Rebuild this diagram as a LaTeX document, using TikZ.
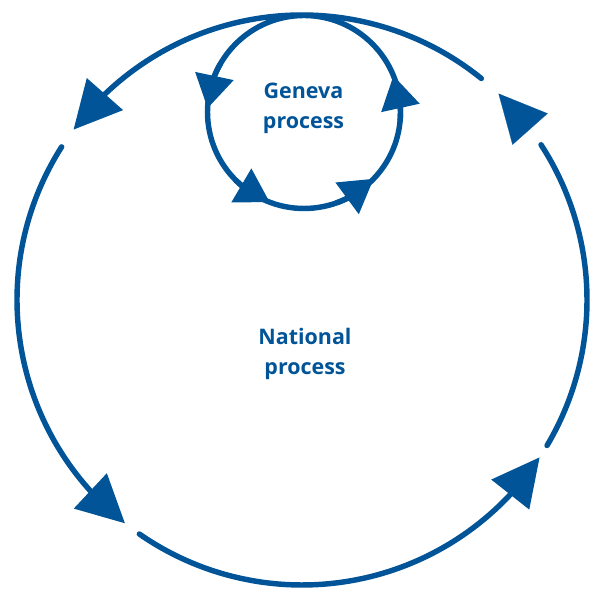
\documentclass[tikz,border=0pt]{standalone}
\usepackage{fontspec}
\setsansfont{Open Sans}
\usetikzlibrary{arrows.meta,bending}
\definecolor{unblue}{RGB}{0,84,151}
\tikzset{
	ring/.style={draw=unblue, line width=3.1pt, line cap=round},
	bigtip/.style={-{Triangle[length=0.95cm,width=0.94cm]}},
	smalltip/.style={-{Triangle[length=0.66cm,width=0.76cm]}},
	proctext/.style={align=center, text=unblue, inner sep=0pt, font=\sffamily\bfseries\fontsize{12.2}{16.8}\selectfont}
}
\begin{document}
\begin{tikzpicture}[x=0.02cm,y=0.02cm]
	\useasboundingbox (0,0) rectangle (590,590);
	\coordinate (big) at (302,290);
	\coordinate (small) at (304,478);
	\draw[ring, bigtip] (big) ++(51:285) arc[start angle=51, end angle=143.3, radius=285];
	\draw[ring, bigtip] (big) ++(147.5:285) arc[start angle=147.5, end angle=231.6, radius=285];
	\draw[ring, bigtip] (big) ++(235.2:285) arc[start angle=235.2, end angle=326.5, radius=285];
	\draw[ring] (big) ++(-30.7:285) arc[start angle=-30.7, end angle=33, radius=285];
	\draw[ring, bigtip, line width=0.1pt] (big) ++(36.8:285) arc[start angle=36.8, end angle=46.4, radius=285];
	\draw[ring] (small) circle[radius=96.5];
	\draw[ring, smalltip] (small) ++(150:96.5) arc[start angle=150, end angle=177.8, radius=96.5];
	\draw[ring, smalltip] (small) ++(225:96.5) arc[start angle=225, end angle=249.2, radius=96.5];
	\draw[ring, smalltip] (small) ++(290:96.5) arc[start angle=290, end angle=316.2, radius=96.5];
	\draw[ring, smalltip] (small) ++(-5:96.5) arc[start angle=-5, end angle=22.1, radius=96.5];
	\node[proctext] (geneva) at (303.5,481.5) {Geneva\\process};
	\node[proctext] (national) at (305,236) {National\\process};
\end{tikzpicture}
\end{document}
